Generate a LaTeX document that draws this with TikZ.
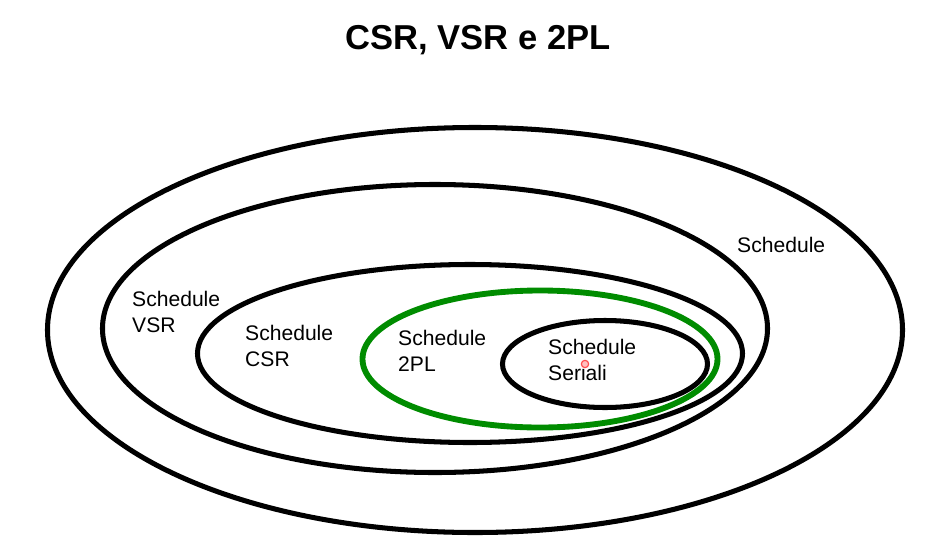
\documentclass[tikz,border=0pt]{standalone}
\usepackage{fontspec}
\setmainfont{Liberation Sans}
\usetikzlibrary{shapes.geometric}

\tikzset{
  every set/.style={draw, ellipse, line width=4.3pt, inner sep=0pt},
  set label/.style={align=left, anchor=north west, inner sep=0pt,
    font=\fontsize{18}{22}\selectfont}
}

\begin{document}
\begin{tikzpicture}[x=0.03cm, y=-0.03cm]

\useasboundingbox (0,0) rectangle (950,558);

\node [font=\fontsize{29.5}{34}\selectfont\bfseries] (title) at (478,40) {CSR, VSR e 2PL};

% insiemi annidati
\node [every set, minimum width=25.65cm, minimum height=12.15cm] (set-all) at (475,330) {};
\node [every set, minimum width=19.95cm, minimum height=8.64cm] (set-vsr) at (435,328.5) {};
\node [every set, minimum width=16.35cm, minimum height=5.34cm] (set-csr) at (470,353.5) {};
\node [every set, draw=green!55!black, line width=5pt, minimum width=10.65cm, minimum height=4.11cm] (set-2pl) at (540,359) {};
\node [every set, minimum width=6.15cm, minimum height=2.61cm] (set-ser) at (605,364) {};

% etichette
\foreach \n/\x/\y/\l in {all/737/237/Schedule,
                         vsr/132/291/Schedule\\VSR,
                         csr/245/325/Schedule\\CSR,
                         2pl/398/330/Schedule\\2PL,
                         ser/548/339/Schedule\\Seriali}
  \node [set label] (label-\n) at (\x,\y) {\l};

\node [circle, draw=red!70, fill=red!25, line width=1pt, inner sep=0pt, minimum size=0.22cm] (pointer) at (585,364) {};

\end{tikzpicture}
\end{document}
